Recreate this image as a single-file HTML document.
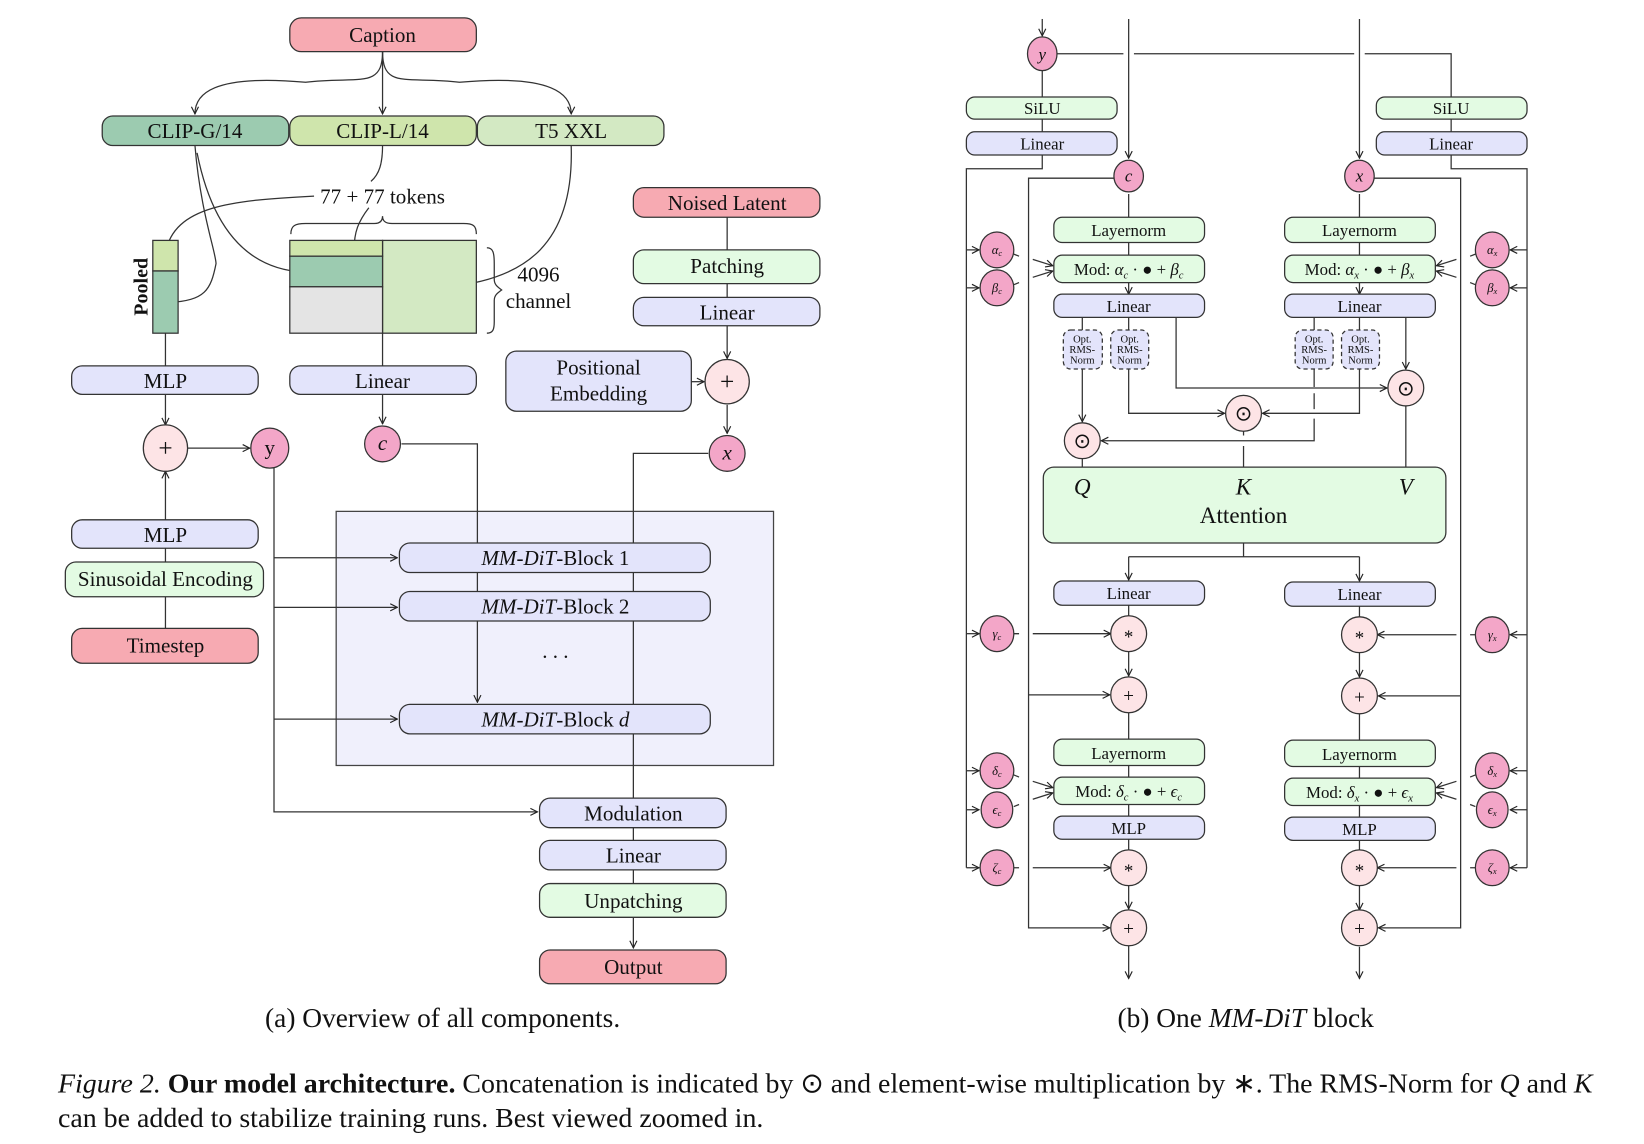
<!DOCTYPE html>
<html><head><meta charset="utf-8"><style>
html,body{margin:0;padding:0;background:#fff;}
svg{display:block;}
text{font-family:"Liberation Serif",serif;fill:#111;}
</style></head><body>
<svg width="1644" height="1144" viewBox="0 0 1560 1085" preserveAspectRatio="none" xmlns="http://www.w3.org/2000/svg">
<defs>
<marker id="a" viewBox="0 0 10 10" refX="9" refY="5" markerWidth="7" markerHeight="7" orient="auto-start-reverse">
<path d="M1,1 L9,5 L1,9" fill="none" stroke="#222" stroke-width="1.3"/>
</marker>
</defs>
<g stroke="#333" stroke-width="1.2" fill="none">
<path d="M363,49 C363,85 340,72 290,78 C200,70 185,90 185,108" marker-end="url(#a)"/>
<path d="M363,49 L363,108" marker-end="url(#a)"/>
<path d="M363,49 C363,85 386,72 436,78 C526,70 542,90 542,108" marker-end="url(#a)"/>
<path d="M363,138 C363,155 360,165 352,172"/>
<path d="M298,186 C220,190 165,195 157,240" marker-end="url(#a)"/>
<path d="M350,197 C340,210 336,220 336,237" marker-end="url(#a)"/>
<path d="M185,138 C190,200 205,240 205,250 C200,275 195,285 160,287" marker-end="url(#a)"/>
<path d="M187,145 C200,210 230,255 288,258" marker-end="url(#a)"/>
<path d="M542,138 C545,230 500,265 424,272" marker-end="url(#a)"/>
<path d="M276,222 C276,214 280,212 290,212 L355,212 C360,212 363,210 363,205 C363,210 366,212 372,212 L440,212 C449,212 452,214 452,222"/>
<path d="M462,235 C468,235 469,240 469,250 L469,265 C469,270 472,272 476,275 C472,278 469,280 469,285 L469,305 C469,312 468,316 462,316"/>
<line x1="157" y1="316" x2="157" y2="347"/>
<line x1="363" y1="316" x2="363" y2="347"/>
<line x1="157" y1="374" x2="157" y2="403" marker-end="url(#a)"/>
<line x1="363" y1="374" x2="363" y2="402" marker-end="url(#a)"/>
<line x1="157" y1="493" x2="157" y2="447" marker-end="url(#a)"/>
<line x1="157" y1="520" x2="157" y2="533"/>
<line x1="157" y1="566" x2="157" y2="596"/>
<line x1="178" y1="425" x2="237" y2="425" marker-end="url(#a)"/>
<line x1="690" y1="206" x2="690" y2="237"/>
<line x1="690" y1="269" x2="690" y2="282"/>
<line x1="690" y1="309" x2="690" y2="340" marker-end="url(#a)"/>
<line x1="656" y1="362" x2="668" y2="362" marker-end="url(#a)"/>
<line x1="690" y1="384" x2="690" y2="411" marker-end="url(#a)"/>
<path d="M260,442 L260,770 L510,770" marker-end="url(#a)"/>
</g>
<rect x="319" y="485" width="415" height="241" fill="#f0f0fc" stroke="#444" stroke-width="1.2"/>
<g stroke="#333" stroke-width="1.2" fill="none">
<line x1="260" y1="529" x2="377" y2="529" marker-end="url(#a)"/>
<line x1="260" y1="576" x2="377" y2="576" marker-end="url(#a)"/>
<line x1="260" y1="682" x2="377" y2="682" marker-end="url(#a)"/>
<path d="M381,421 L453,421 L453,515"/>
<line x1="453" y1="543" x2="453" y2="561"/>
<line x1="453" y1="589" x2="453" y2="666" marker-end="url(#a)"/>
<path d="M672,430 L601,430 L601,515"/>
<line x1="601" y1="543" x2="601" y2="561"/>
<line x1="601" y1="589" x2="601" y2="668"/>
<line x1="601" y1="696" x2="601" y2="757"/>
<line x1="601" y1="785" x2="601" y2="797"/>
<line x1="601" y1="825" x2="601" y2="838"/>
<line x1="601" y1="870" x2="601" y2="899" marker-end="url(#a)"/>
</g>
<g stroke="#333" stroke-width="1.2">
<rect x="275" y="17" width="177" height="32" rx="11" fill="#f7aab2"/>
<rect x="97" y="110" width="177" height="28" rx="10" fill="#9ccbb0"/>
<rect x="275" y="110" width="177" height="28" rx="10" fill="#cfe5ac"/>
<rect x="453" y="110" width="177" height="28" rx="10" fill="#d3e9c3"/>
<rect x="145" y="228" width="24" height="29" fill="#cfe5ac"/>
<rect x="145" y="257" width="24" height="59" fill="#9ccbb0"/>
<rect x="363" y="228" width="89" height="88" fill="#d3e9c3"/>
<rect x="275" y="228" width="88" height="15" fill="#cfe5ac"/>
<rect x="275" y="243" width="88" height="29" fill="#9ccbb0"/>
<rect x="275" y="272" width="88" height="44" fill="#e4e4e4"/>
<rect x="68" y="347" width="177" height="27" rx="10" fill="#e3e4fb"/>
<rect x="275" y="347" width="177" height="27" rx="10" fill="#e3e4fb"/>
<rect x="601" y="178" width="177" height="28" rx="10" fill="#f7aab2"/>
<rect x="601" y="237" width="177" height="32" rx="10" fill="#e3fbe3"/>
<rect x="601" y="282" width="177" height="27" rx="10" fill="#e3e4fb"/>
<rect x="480" y="333" width="176" height="57" rx="10" fill="#e3e4fb"/>
<rect x="68" y="493" width="177" height="27" rx="10" fill="#e3e4fb"/>
<rect x="62" y="533" width="188" height="33" rx="10" fill="#e3fbe3"/>
<rect x="68" y="596" width="177" height="33" rx="10" fill="#f7aab2"/>
<rect x="379" y="515" width="295" height="28" rx="10" fill="#e3e4fb"/>
<rect x="379" y="561" width="295" height="28" rx="10" fill="#e3e4fb"/>
<rect x="379" y="668" width="295" height="28" rx="10" fill="#e3e4fb"/>
<rect x="512" y="757" width="177" height="28" rx="10" fill="#e3e4fb"/>
<rect x="512" y="797" width="177" height="28" rx="10" fill="#e3e4fb"/>
<rect x="512" y="838" width="177" height="32" rx="10" fill="#e3fbe3"/>
<rect x="512" y="901" width="177" height="32" rx="10" fill="#f7aab2"/>
<ellipse cx="157" cy="425" rx="21" ry="22" fill="#fde4e6"/>
<ellipse cx="256" cy="425" rx="18" ry="19" fill="#f3a6c8"/>
<ellipse cx="363" cy="421" rx="17" ry="17" fill="#f3a6c8"/>
<ellipse cx="690" cy="362" rx="21" ry="21" fill="#fde4e6"/>
<ellipse cx="690" cy="430" rx="17" ry="17" fill="#f3a6c8"/>
</g>
<g font-size="20" text-anchor="middle">
<text x="363" y="40">Caption</text>
<text x="185" y="131">CLIP-G/14</text>
<text x="363" y="131">CLIP-L/14</text>
<text x="542" y="131">T5 XXL</text>
<text x="363" y="193">77 + 77 tokens</text>
<text x="511" y="267">4096</text>
<text x="511" y="292">channel</text>
<text x="140" y="272" transform="rotate(-90 140 272)" font-weight="bold" font-size="19">Pooled</text>
<text x="157" y="368">MLP</text>
<text x="363" y="368">Linear</text>
<text x="690" y="199">Noised Latent</text>
<text x="690" y="259">Patching</text>
<text x="690" y="303">Linear</text>
<text x="568" y="355">Positional</text>
<text x="568" y="380">Embedding</text>
<text x="157" y="433" font-size="24">+</text>
<text x="256" y="431">y</text>
<text x="363" y="427" font-style="italic">c</text>
<text x="690" y="370" font-size="24">+</text>
<text x="690" y="436" font-style="italic">x</text>
<text x="157" y="514">MLP</text>
<text x="157" y="556">Sinusoidal Encoding</text>
<text x="157" y="619">Timestep</text>
<text x="527" y="536"><tspan font-style="italic">MM-DiT</tspan>-Block 1</text>
<text x="527" y="582"><tspan font-style="italic">MM-DiT</tspan>-Block 2</text>
<text x="527" y="624">. . .</text>
<text x="527" y="689"><tspan font-style="italic">MM-DiT</tspan>-Block <tspan font-style="italic">d</tspan></text>
<text x="601" y="778">Modulation</text>
<text x="601" y="818">Linear</text>
<text x="601" y="861">Unpatching</text>
<text x="601" y="924">Output</text>
<text x="420" y="974" font-size="26">(a) Overview of all components.</text>
<text x="1182" y="974" font-size="26">(b) One <tspan font-style="italic">MM-DiT</tspan> block</text>
</g>

<g stroke="#333" stroke-width="1.2" fill="none">
<line x1="989" y1="18" x2="989" y2="34" marker-end="url(#a)"/>
<line x1="1071" y1="18" x2="1071" y2="150" marker-end="url(#a)"/>
<line x1="1290" y1="18" x2="1290" y2="150" marker-end="url(#a)"/>
<path d="M1003,51 L1066,51 M1076,51 L1285,51 M1295,51 L1377,51 L1377,92"/>
<line x1="989" y1="67" x2="989" y2="92"/>
<line x1="989" y1="113" x2="989" y2="125"/>
<line x1="1377" y1="113" x2="1377" y2="125"/>
<path d="M989,147 L989,160 L917,160 L917,823"/>
<path d="M1377,147 L1377,160 L1449,160 L1449,823"/>
<path d="M1057,169 L976,169 L976,880 L1053,880" marker-end="url(#a)"/>
<path d="M1304,169 L1386,169 L1386,880 L1308,880" marker-end="url(#a)"/>
<line x1="976" y1="659" x2="1053" y2="659" marker-end="url(#a)"/>
<line x1="1386" y1="660" x2="1308" y2="660" marker-end="url(#a)"/>
<line x1="1071" y1="184" x2="1071" y2="206"/>
<line x1="1290" y1="184" x2="1290" y2="206"/>
<line x1="1071" y1="230" x2="1071" y2="242"/>
<line x1="1290" y1="230" x2="1290" y2="242"/>
<line x1="1071" y1="268" x2="1071" y2="279" marker-end="url(#a)"/>
<line x1="1290" y1="268" x2="1290" y2="279" marker-end="url(#a)"/>
<line x1="917" y1="237" x2="929" y2="237" marker-end="url(#a)"/>
<line x1="917" y1="273" x2="929" y2="273" marker-end="url(#a)"/>
<line x1="917" y1="601" x2="929" y2="601" marker-end="url(#a)"/>
<line x1="917" y1="731" x2="929" y2="731" marker-end="url(#a)"/>
<line x1="917" y1="768" x2="929" y2="768" marker-end="url(#a)"/>
<line x1="917" y1="823" x2="929" y2="823" marker-end="url(#a)"/>
<line x1="1449" y1="237" x2="1433" y2="237" marker-end="url(#a)"/>
<line x1="1449" y1="273" x2="1433" y2="273" marker-end="url(#a)"/>
<line x1="1449" y1="602" x2="1433" y2="602" marker-end="url(#a)"/>
<line x1="1449" y1="731" x2="1433" y2="731" marker-end="url(#a)"/>
<line x1="1449" y1="768" x2="1433" y2="768" marker-end="url(#a)"/>
<line x1="1449" y1="823" x2="1433" y2="823" marker-end="url(#a)"/>
<path d="M962,241 L967,243 M980,246 L999,252" marker-end="url(#a)"/>
<path d="M962,270 L967,268 M980,263 L999,257" marker-end="url(#a)"/>
<path d="M1400,241 L1395,243 M1382,246 L1363,252" marker-end="url(#a)"/>
<path d="M1400,270 L1395,268 M1382,263 L1363,257" marker-end="url(#a)"/>
<path d="M962,735 L967,737 M980,741 L999,747" marker-end="url(#a)"/>
<path d="M962,765 L967,763 M980,758 L999,752" marker-end="url(#a)"/>
<path d="M1400,735 L1395,737 M1382,741 L1363,747" marker-end="url(#a)"/>
<path d="M1400,765 L1395,763 M1382,758 L1363,752" marker-end="url(#a)"/>
<path d="M962,601 L967,601 M980,601 L1054,601" marker-end="url(#a)"/>
<path d="M1400,602 L1395,602 M1382,602 L1307,602" marker-end="url(#a)"/>
<path d="M962,823 L967,823 M980,823 L1054,823" marker-end="url(#a)"/>
<path d="M1400,823 L1395,823 M1382,823 L1307,823" marker-end="url(#a)"/>
<line x1="1027" y1="301" x2="1027" y2="313"/>
<line x1="1071" y1="301" x2="1071" y2="313"/>
<line x1="1247" y1="301" x2="1247" y2="313"/>
<line x1="1290" y1="301" x2="1290" y2="313"/>
<line x1="1027" y1="350" x2="1027" y2="400" marker-end="url(#a)"/>
<path d="M1071,350 L1071,392 L1162,392" marker-end="url(#a)"/>
<path d="M1290,350 L1290,392 L1198,392" marker-end="url(#a)"/>
<path d="M1247,350 L1247,367 M1247,373 L1247,388 M1247,397 L1247,418 L1045,418" marker-end="url(#a)"/>
<path d="M1116,301 L1116,368 L1316,368" marker-end="url(#a)"/>
<line x1="1334" y1="301" x2="1334" y2="350" marker-end="url(#a)"/>
<line x1="1027" y1="435" x2="1027" y2="443"/>
<path d="M1180,409 L1180,413 M1180,423 L1180,443"/>
<line x1="1334" y1="385" x2="1334" y2="443"/>
<path d="M1180,515 L1180,528 M1071,528 L1290,528"/>
<line x1="1071" y1="528" x2="1071" y2="550" marker-end="url(#a)"/>
<line x1="1290" y1="528" x2="1290" y2="551" marker-end="url(#a)"/>
<line x1="1071" y1="574" x2="1071" y2="584"/>
<line x1="1290" y1="575" x2="1290" y2="585"/>
<line x1="1071" y1="618" x2="1071" y2="641" marker-end="url(#a)"/>
<line x1="1290" y1="619" x2="1290" y2="642" marker-end="url(#a)"/>
<line x1="1071" y1="676" x2="1071" y2="701"/>
<line x1="1290" y1="677" x2="1290" y2="702"/>
<line x1="1071" y1="726" x2="1071" y2="737"/>
<line x1="1290" y1="727" x2="1290" y2="738"/>
<line x1="1071" y1="763" x2="1071" y2="774"/>
<line x1="1290" y1="764" x2="1290" y2="775"/>
<line x1="1071" y1="796" x2="1071" y2="806"/>
<line x1="1290" y1="797" x2="1290" y2="807"/>
<line x1="1071" y1="840" x2="1071" y2="862" marker-end="url(#a)"/>
<line x1="1290" y1="840" x2="1290" y2="863" marker-end="url(#a)"/>
<line x1="1071" y1="897" x2="1071" y2="928" marker-end="url(#a)"/>
<line x1="1290" y1="898" x2="1290" y2="928" marker-end="url(#a)"/>
</g>
<g stroke="#333" stroke-width="1.2">
<rect x="917" y="92" width="143" height="21" rx="8" fill="#e3fbe3"/>
<rect x="917" y="125" width="143" height="22" rx="8" fill="#e3e4fb"/>
<rect x="1306" y="92" width="143" height="21" rx="8" fill="#e3fbe3"/>
<rect x="1306" y="125" width="143" height="22" rx="8" fill="#e3e4fb"/>
<rect x="1000" y="206" width="143" height="24" rx="8" fill="#e3fbe3"/>
<rect x="1000" y="242" width="143" height="26" rx="8" fill="#e3fbe3"/>
<rect x="1000" y="279" width="143" height="22" rx="8" fill="#e3e4fb"/>
<rect x="1219" y="206" width="143" height="24" rx="8" fill="#e3fbe3"/>
<rect x="1219" y="242" width="143" height="26" rx="8" fill="#e3fbe3"/>
<rect x="1219" y="279" width="143" height="22" rx="8" fill="#e3e4fb"/>
<g stroke-dasharray="4,3">
<rect x="1009" y="313" width="37" height="37" rx="7" fill="#e3e4fb"/>
<rect x="1054" y="313" width="36" height="37" rx="7" fill="#e3e4fb"/>
<rect x="1229" y="313" width="36" height="37" rx="7" fill="#e3e4fb"/>
<rect x="1273" y="313" width="36" height="37" rx="7" fill="#e3e4fb"/>
</g>
<rect x="990" y="443" width="382" height="72" rx="10" fill="#e3fbe3"/>
<rect x="1000" y="551" width="143" height="23" rx="8" fill="#e3e4fb"/>
<rect x="1219" y="552" width="143" height="23" rx="8" fill="#e3e4fb"/>
<rect x="1000" y="701" width="143" height="25" rx="8" fill="#e3fbe3"/>
<rect x="1000" y="737" width="143" height="26" rx="8" fill="#e3fbe3"/>
<rect x="1000" y="774" width="143" height="22" rx="8" fill="#e3e4fb"/>
<rect x="1219" y="702" width="143" height="25" rx="8" fill="#e3fbe3"/>
<rect x="1219" y="738" width="143" height="26" rx="8" fill="#e3fbe3"/>
<rect x="1219" y="775" width="143" height="22" rx="8" fill="#e3e4fb"/>
<g fill="#f3a6c8">
<ellipse cx="989" cy="51" rx="14" ry="16"/>
<ellipse cx="1071" cy="167" rx="14" ry="15"/>
<ellipse cx="1290" cy="167" rx="14" ry="15"/>
<ellipse cx="946" cy="237" rx="16" ry="17"/>
<ellipse cx="946" cy="273" rx="16" ry="17"/>
<ellipse cx="946" cy="601" rx="16" ry="17"/>
<ellipse cx="946" cy="731" rx="16" ry="17"/>
<ellipse cx="946" cy="768" rx="15" ry="17"/>
<ellipse cx="946" cy="823" rx="16" ry="17"/>
<ellipse cx="1416" cy="237" rx="16" ry="17"/>
<ellipse cx="1416" cy="273" rx="16" ry="17"/>
<ellipse cx="1416" cy="602" rx="16" ry="17"/>
<ellipse cx="1416" cy="731" rx="16" ry="17"/>
<ellipse cx="1416" cy="768" rx="15" ry="17"/>
<ellipse cx="1416" cy="823" rx="16" ry="17"/>
</g>
<g fill="#fde4e6">
<ellipse cx="1027" cy="418" rx="17" ry="17"/>
<ellipse cx="1180" cy="392" rx="17" ry="17"/>
<ellipse cx="1334" cy="368" rx="17" ry="17"/>
<ellipse cx="1071" cy="601" rx="17" ry="17"/>
<ellipse cx="1290" cy="602" rx="17" ry="17"/>
<ellipse cx="1071" cy="659" rx="17" ry="17"/>
<ellipse cx="1290" cy="660" rx="17" ry="17"/>
<ellipse cx="1071" cy="823" rx="17" ry="17"/>
<ellipse cx="1290" cy="823" rx="17" ry="17"/>
<ellipse cx="1071" cy="880" rx="17" ry="17"/>
<ellipse cx="1290" cy="880" rx="17" ry="17"/>
</g>
</g>
<g text-anchor="middle" font-size="16">
<text x="989" y="57" font-style="italic">y</text>
<text x="1071" y="172" font-style="italic">c</text>
<text x="1290" y="172" font-style="italic">x</text>
<text x="989" y="108">SiLU</text>
<text x="989" y="142">Linear</text>
<text x="1377" y="108">SiLU</text>
<text x="1377" y="142">Linear</text>
<text x="1071" y="224">Layernorm</text>
<text x="1071" y="261">Mod: <tspan font-style="italic">α<tspan font-size="10" dy="3">c</tspan></tspan><tspan dy="-3"> · ● + </tspan><tspan font-style="italic">β<tspan font-size="10" dy="3">c</tspan></tspan></text>
<text x="1071" y="296">Linear</text>
<text x="1290" y="224">Layernorm</text>
<text x="1290" y="261">Mod: <tspan font-style="italic">α<tspan font-size="10" dy="3">x</tspan></tspan><tspan dy="-3"> · ● + </tspan><tspan font-style="italic">β<tspan font-size="10" dy="3">x</tspan></tspan></text>
<text x="1290" y="296">Linear</text>
<g font-size="10">
<text x="1027" y="325">Opt.</text><text x="1027" y="335">RMS-</text><text x="1027" y="345">Norm</text>
<text x="1072" y="325">Opt.</text><text x="1072" y="335">RMS-</text><text x="1072" y="345">Norm</text>
<text x="1247" y="325">Opt.</text><text x="1247" y="335">RMS-</text><text x="1247" y="345">Norm</text>
<text x="1291" y="325">Opt.</text><text x="1291" y="335">RMS-</text><text x="1291" y="345">Norm</text>
</g>
<g font-size="20">
<text x="1027" y="425">⊙</text>
<text x="1180" y="399">⊙</text>
<text x="1334" y="375">⊙</text>
</g>
<g font-size="22" font-style="italic">
<text x="1027" y="469">Q</text>
<text x="1180" y="469">K</text>
<text x="1334" y="469">V</text>
</g>
<text x="1180" y="496" font-size="22">Attention</text>
<text x="1071" y="568">Linear</text>
<text x="1290" y="569">Linear</text>
<text x="1071" y="720">Layernorm</text>
<text x="1071" y="756">Mod: <tspan font-style="italic">δ<tspan font-size="10" dy="3">c</tspan></tspan><tspan dy="-3"> · ● + </tspan><tspan font-style="italic">ϵ<tspan font-size="10" dy="3">c</tspan></tspan></text>
<text x="1071" y="791">MLP</text>
<text x="1290" y="721">Layernorm</text>
<text x="1290" y="757">Mod: <tspan font-style="italic">δ<tspan font-size="10" dy="3">x</tspan></tspan><tspan dy="-3"> · ● + </tspan><tspan font-style="italic">ϵ<tspan font-size="10" dy="3">x</tspan></tspan></text>
<text x="1290" y="792">MLP</text>
<g font-size="18">
<text x="1071" y="610">*</text><text x="1290" y="611">*</text>
<text x="1071" y="832">*</text><text x="1290" y="832">*</text>
<text x="1071" y="666">+</text><text x="1290" y="667">+</text>
<text x="1071" y="887">+</text><text x="1290" y="887">+</text>
</g>
<g font-size="12" font-style="italic">
<text x="946" y="241">α<tspan font-size="8" dy="2">c</tspan></text>
<text x="946" y="277">β<tspan font-size="8" dy="2">c</tspan></text>
<text x="946" y="605">γ<tspan font-size="8" dy="2">c</tspan></text>
<text x="946" y="735">δ<tspan font-size="8" dy="2">c</tspan></text>
<text x="946" y="772">ϵ<tspan font-size="8" dy="2">c</tspan></text>
<text x="946" y="827">ζ<tspan font-size="8" dy="2">c</tspan></text>
<text x="1416" y="241">α<tspan font-size="8" dy="2">x</tspan></text>
<text x="1416" y="277">β<tspan font-size="8" dy="2">x</tspan></text>
<text x="1416" y="606">γ<tspan font-size="8" dy="2">x</tspan></text>
<text x="1416" y="735">δ<tspan font-size="8" dy="2">x</tspan></text>
<text x="1416" y="772">ϵ<tspan font-size="8" dy="2">x</tspan></text>
<text x="1416" y="827">ζ<tspan font-size="8" dy="2">x</tspan></text>
</g>
</g>
<text x="55" y="1036" font-size="26.5"><tspan font-style="italic">Figure 2.</tspan> <tspan font-weight="bold">Our model architecture.</tspan> Concatenation is indicated by ⊙ and element-wise multiplication by ∗. The RMS-Norm for <tspan font-style="italic">Q</tspan> and <tspan font-style="italic">K</tspan></text>
<text x="55" y="1069" font-size="26.5">can be added to stabilize training runs. Best viewed zoomed in.</text>
</svg>
</body></html>
